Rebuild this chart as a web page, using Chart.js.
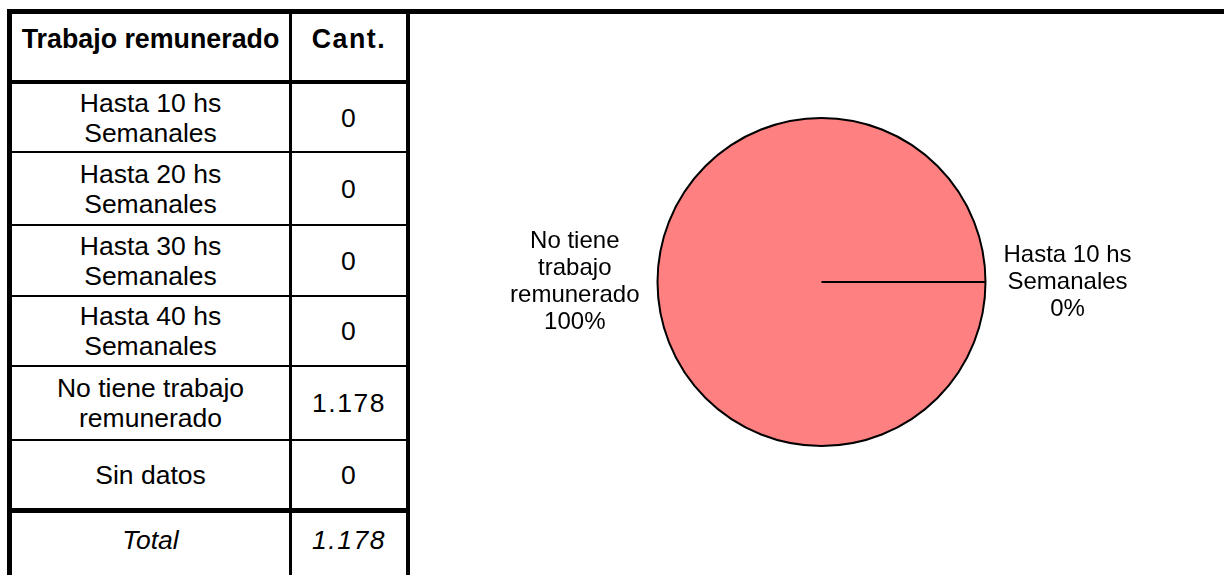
<!DOCTYPE html>
<html>
<head>
<meta charset="utf-8">
<script src="https://cdn.jsdelivr.net/npm/chart.js@4"></script>
<style>
html,body{margin:0;padding:0;background:#fff;width:1224px;height:575px;overflow:hidden;font-family:"Liberation Sans",Arial,sans-serif;}
#linea{position:absolute;left:7px;top:9px;width:1217px;height:5px;background:#000;}
#tabla{position:absolute;left:7px;top:14px;width:403px;border-collapse:separate;border-spacing:0;table-layout:fixed;border-left:5px solid #000;}
#tabla td{box-sizing:border-box;padding:0;text-align:center;vertical-align:middle;font-size:26.5px;line-height:30px;color:#000;border-bottom:2px solid #000;}
#tabla td.c1{width:280px;padding:0 8px;border-right:3px solid #000;}
#tabla td.c2{width:118px;border-right:4px solid #000;letter-spacing:1.5px;}
#tabla tr.cab td{height:70px;border-bottom-width:4px;padding-bottom:17px;font-weight:bold;font-size:26.8px;}
#tabla tr.f0 td{height:69px;}
#tabla tr.f1 td{height:73px;}
#tabla tr.f2 td{height:71px;}
#tabla tr.f3 td{height:70px;}
#tabla tr.f4 td{height:74px;}
#tabla tr.f5 td{height:72px;border-bottom-width:5px;}
#tabla tr.tot td{height:80px;border-bottom:0;padding-bottom:26px;font-style:italic;}
#caja{position:absolute;left:410px;top:14px;width:814px;height:561px;}
</style>
</head>
<body>
<div id="linea"></div>
<table id="tabla"></table>
<div id="caja"><canvas id="grafico" width="814" height="561"></canvas></div>
<script>
// datos
const categorias = ['Hasta 10 hs Semanales', 'Hasta 20 hs Semanales', 'Hasta 30 hs Semanales', 'Hasta 40 hs Semanales', 'No tiene trabajo remunerado', 'Sin datos'];
const cantidades = [0, 0, 0, 0, 1178, 0];
const etiquetaVisible = [true, false, false, false, true, false]; // excel solo muestra estas dos

const total = cantidades.reduce(function(a, b){ return a + b; }, 0);

function formato(n){
	return String(n).replace(/\B(?=(\d{3})+(?!\d))/g, '.');
}

// tabla
var html = '<tr class="cab"><td class="c1">Trabajo remunerado</td><td class="c2">Cant.</td></tr>';
for (var i = 0; i < categorias.length; i++) {
	html += '<tr class="f' + i + '"><td class="c1">' + categorias[i] + '</td><td class="c2">' + formato(cantidades[i]) + '</td></tr>';
}
html += '<tr class="tot"><td class="c1">Total</td><td class="c2">' + formato(total) + '</td></tr>';
document.getElementById('tabla').innerHTML = html;

function partir(ctx, texto, max){
	var palabras = texto.split(' ');
	var lineas = [];
	var actual = '';
	palabras.forEach(function(p){
		var prueba = actual ? actual + ' ' + p : p;
		if (actual && ctx.measureText(prueba).width > max) {
			lineas.push(actual);
			actual = p;
		} else {
			actual = prueba;
		}
	});
	if (actual) lineas.push(actual);
	return lineas;
}

const etiquetasPie = {
	id: 'etiquetasPie',
	afterDatasetsDraw: function(chart){
		var ctx = chart.ctx;
		var meta = chart.getDatasetMeta(0);
		ctx.save();
		ctx.font = '24px "Liberation Sans", Arial, sans-serif';
		ctx.fillStyle = '#000';
		ctx.textAlign = 'center';
		ctx.textBaseline = 'middle';
		meta.data.forEach(function(arc, i){
			if (!etiquetaVisible[i]) return;
			var p = arc.getProps(['x', 'y', 'startAngle', 'endAngle', 'outerRadius'], true);
			var medio = (p.startAngle + p.endAngle) / 2;
			var lineas = partir(ctx, categorias[i], 140);
			lineas.push(Math.round(cantidades[i] / total * 100) + '%');
			var ancho = 0;
			lineas.forEach(function(l){ ancho = Math.max(ancho, ctx.measureText(l).width); });
			var d = p.outerRadius + 18;
			var ax = p.x + Math.cos(medio) * d;
			var ay = p.y + Math.sin(medio) * d;
			var cx = Math.cos(medio) < 0 ? ax - ancho / 2 : ax + ancho / 2;
			var alto = 27;
			var y0 = ay - (lineas.length - 1) * alto / 2;
			lineas.forEach(function(l, k){ ctx.fillText(l, cx, y0 + k * alto); });
		});
		ctx.restore();
	}
};

new Chart(document.getElementById('grafico'), {
	type: 'pie',
	data: {
		labels: categorias,
		datasets: [{
			data: cantidades,
			backgroundColor: '#FF8080',
			borderColor: '#000000',
			borderWidth: 2
		}]
	},
	options: {
		responsive: false,
		devicePixelRatio: 1,
		animation: false,
		events: [],
		rotation: 90,
		radius: 164,
		layout: { padding: { left: 220, right: 211, top: 100, bottom: 125 } },
		plugins: { legend: { display: false }, tooltip: { enabled: false } }
	},
	plugins: [etiquetasPie]
});
</script>
</body>
</html>
